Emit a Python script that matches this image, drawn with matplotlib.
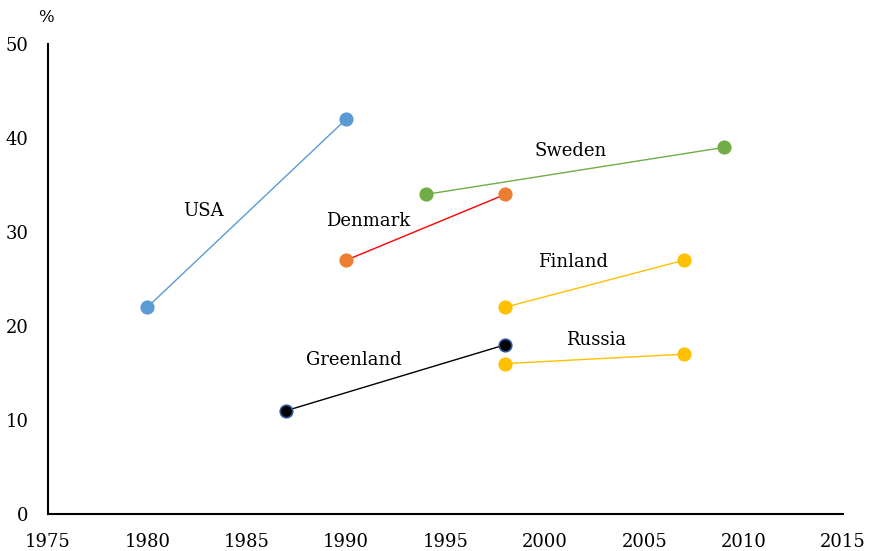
import matplotlib
matplotlib.use("Agg")
import matplotlib.pyplot as plt

countries = ["USA", "Denmark", "Sweden", "Finland", "Russia", "Greenland"]
years = {
    "USA": [1980, 1990],
    "Denmark": [1990, 1998],
    "Sweden": [1994, 2009],
    "Finland": [1998, 2007],
    "Russia": [1998, 2007],
    "Greenland": [1987, 1998],
}
values = {
    "USA": [22, 42],
    "Denmark": [27, 34],
    "Sweden": [34, 39],
    "Finland": [22, 27],
    "Russia": [16, 17],
    "Greenland": [11, 18],
}
x_ticks = [1975, 1980, 1985, 1990, 1995, 2000, 2005, 2010, 2015]
y_ticks = [0, 10, 20, 30, 40, 50]

line_colors = {"USA": "#5B9BD5", "Denmark": "#FF0000", "Sweden": "#70AD47",
               "Finland": "#FFC000", "Russia": "#FFC000", "Greenland": "#000000"}
marker_colors = {"USA": "#5B9BD5", "Denmark": "#ED7D31", "Sweden": "#70AD47",
                 "Finland": "#FFC000", "Russia": "#FFC000", "Greenland": "#000000"}
edge_colors = {"USA": "#5B9BD5", "Denmark": "#ED7D31", "Sweden": "#70AD47",
               "Finland": "#FFC000", "Russia": "#FFC000", "Greenland": "#2F5597"}
label_pos = {"USA": (1982.8, 32.2), "Denmark": (1991.1, 31.2), "Sweden": (2001.3, 38.6),
             "Finland": (2001.4, 26.8), "Russia": (2002.6, 18.5), "Greenland": (1990.4, 16.4)}

plt.rcParams['font.family'] = ['DejaVu Serif']
fig = plt.figure(figsize=(8.69, 5.51), dpi=100)
ax = fig.add_axes([0.0552, 0.0672, 0.9148, 0.8528])

for c in countries:
    ax.plot(years[c], values[c], color=line_colors[c], lw=1.0, zorder=2)
    ax.plot(years[c], values[c], 'o', ms=9, mfc=marker_colors[c], mec=edge_colors[c],
            mew=1.2, zorder=3)
    ax.text(label_pos[c][0], label_pos[c][1], c, ha='center', va='center', fontsize=13)

ax.set_xlim(1975, 2015)
ax.set_ylim(0, 50)
ax.set_xticks(x_ticks)
ax.set_yticks(y_ticks)
ax.tick_params(length=0, labelsize=13, pad=14)
ax.tick_params(axis='y', pad=14)
ax.spines['top'].set_visible(False)
ax.spines['right'].set_visible(False)
ax.spines['left'].set_linewidth(1.5)
ax.spines['bottom'].set_linewidth(1.5)
fig.text(46/869, 1 - 17/551, "%", ha='center', va='center', fontsize=12)

fig.savefig("out.png", dpi=100)
